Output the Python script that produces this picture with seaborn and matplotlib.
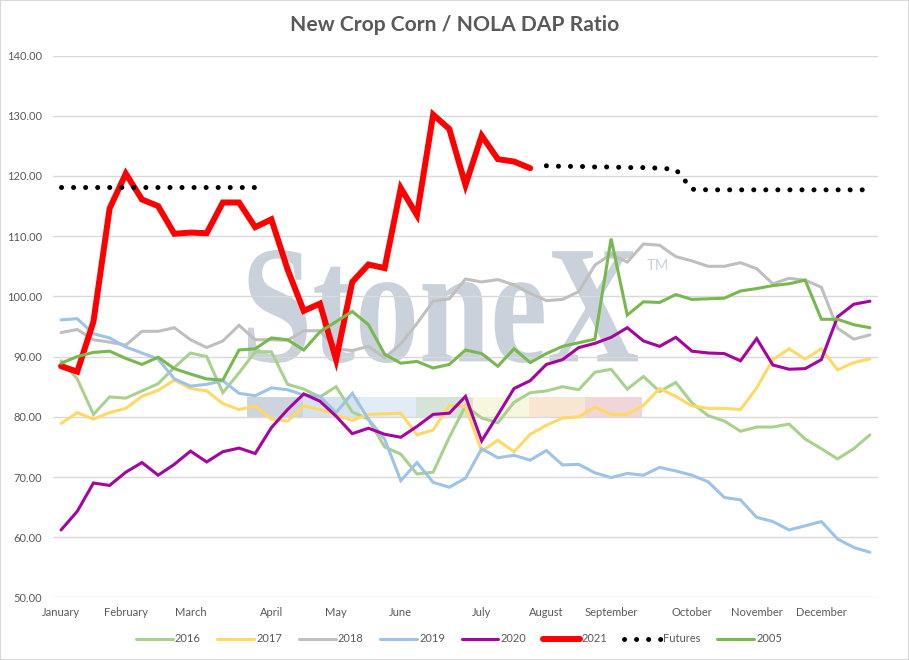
import numpy as np
import pandas as pd
import seaborn as sns
import matplotlib.pyplot as plt
from matplotlib.textpath import TextPath
from matplotlib.patches import PathPatch, Rectangle
from matplotlib.font_manager import FontProperties
from matplotlib.transforms import Affine2D

# weekly points, Jan -> Dec
weeks = np.arange(51)
nan = np.nan

tick_weeks = [0, 4, 8, 13, 17, 21, 26, 30, 34, 39, 43, 47]
month_labels = ['January', 'February', 'March', 'April', 'May', 'June', 'July',
                'August', 'September', 'October', 'November', 'December']

y2016 = [89.3, 86.3, 80.4, 83.3, 83.1, 84.3, 85.5, 88.2, 90.6, 90.0, 84.0, 87.3, 90.8,
         90.8, 85.4, 84.6, 83.3, 85.0, 80.8, 79.6, 75.0, 73.8, 70.5, 70.8, 76.6, 81.8,
         79.8, 79.0, 82.4, 84.0, 84.3, 85.0, 84.5, 87.4, 87.9, 84.6, 86.7, 84.2, 85.7,
         82.3, 80.2, 79.3, 77.6, 78.3, 78.3, 78.8, 76.3, 74.7, 73.0, 74.7, 77.0]
y2017 = [78.9, 80.7, 79.6, 80.7, 81.4, 83.4, 84.4, 86.1, 84.7, 84.3, 82.2, 81.2, 81.8,
         79.6, 79.3, 81.8, 81.2, 80.3, 79.4, 80.4, 80.5, 80.6, 77.0, 77.8, 81.9, 81.7,
         74.3, 76.1, 74.2, 77.1, 78.6, 79.8, 80.0, 81.6, 80.4, 80.4, 81.9, 84.7, 83.4,
         81.8, 81.4, 81.4, 81.2, 84.8, 89.5, 91.3, 89.6, 91.3, 87.8, 89.0, 89.6]
y2018 = [94.0, 94.5, 92.8, 92.4, 91.9, 94.2, 94.2, 94.8, 92.8, 91.5, 92.6, 95.2, 92.8,
         92.8, 92.7, 94.3, 94.3, 91.3, 91.0, 91.7, 89.8, 92.1, 95.5, 99.2, 99.6, 102.9,
         102.4, 102.8, 101.9, 100.5, 99.3, 99.5, 100.8, 105.2, 107.0, 105.7, 108.7, 108.5,
         106.6, 105.9, 105.0, 105.0, 105.6, 104.6, 102.1, 103.0, 102.7, 101.5, 94.7, 92.9, 93.6]
y2019 = [96.1, 96.3, 93.8, 93.1, 91.6, 90.6, 89.6, 86.3, 85.1, 85.4, 86.0, 83.9, 83.5,
         84.8, 84.5, 83.6, 83.4, 80.7, 83.9, 79.6, 76.3, 69.4, 72.4, 69.1, 68.3, 69.8,
         74.7, 73.2, 73.6, 72.8, 74.4, 72.0, 72.1, 70.7, 69.9, 70.6, 70.3, 71.6, 71.0,
         70.3, 69.2, 66.6, 66.2, 63.3, 62.6, 61.2, 61.9, 62.6, 59.7, 58.3, 57.5]
y2020 = [61.2, 64.3, 69.0, 68.6, 70.8, 72.4, 70.3, 72.1, 74.3, 72.5, 74.2, 74.8, 73.9,
         78.2, 81.2, 83.8, 82.6, 80.1, 77.2, 78.1, 77.1, 76.6, 78.4, 80.4, 80.6, 83.4,
         76.0, 80.3, 84.7, 86.0, 88.7, 89.5, 91.5, 92.2, 93.2, 94.8, 92.6, 91.7, 93.2,
         90.9, 90.6, 90.5, 89.3, 93.0, 88.6, 87.9, 88.0, 89.5, 96.6, 98.7, 99.2]
y2021 = [88.4, 87.5, 95.8, 114.6, 120.4, 116.1, 115.0, 110.4, 110.6, 110.5, 115.6, 115.6,
         111.5, 112.8, 104.5, 97.6, 98.8, 89.5, 102.4, 105.3, 104.7, 118.0, 113.5, 130.2,
         127.8, 118.5, 126.7, 122.8, 122.4, 121.3] + [nan] * 21
futures = [118.2] * 13 + [nan] * 17 + [121.7, 121.6, 121.6, 121.5, 121.5, 121.4, 121.4,
                                       121.3, 121.1] + [117.8] + [117.7] * 11
y2005 = [88.9, 90.0, 90.7, 90.9, 89.7, 88.7, 89.9, 88.0, 87.1, 86.3, 86.1, 91.1, 91.3,
         93.1, 92.8, 91.1, 94.1, 95.8, 97.5, 95.3, 90.4, 88.9, 89.2, 88.1, 88.7, 91.1,
         90.5, 88.4, 91.3, 89.0, 90.5, 91.7, 92.3, 92.9, 109.6, 96.9, 99.1, 99.0, 100.3,
         99.5, 99.6, 99.7, 100.9, 101.3, 101.8, 102.1, 102.7, 96.2, 96.2, 95.3, 94.8]

series = {'2016': y2016, '2017': y2017, '2018': y2018, '2019': y2019,
          '2020': y2020, '2021': y2021, 'Futures': futures, '2005': y2005}
colors = {'2016': '#a9d18e', '2017': '#ffd966', '2018': '#bfbfbf', '2019': '#9dc3e6',
          '2020': '#a5049f', '2021': '#ff0000', 'Futures': '#000000', '2005': '#78b84e'}

df = pd.DataFrame({'week': np.tile(weeks, len(series)),
                   'series': np.repeat(list(series.keys()), len(weeks)),
                   'ratio': np.concatenate([series[k] for k in series])})

sns.set_theme(style='white')
plt.rcParams['font.family'] = ['Lato', 'DejaVu Sans']
txt = '#595959'

fig, ax = plt.subplots(figsize=(9.09, 6.6), dpi=100)
fig.subplots_adjust(left=53/909, right=878/909, bottom=1-597.4/660, top=1-55.6/660)
ax.set_facecolor('none')

# StoneX watermark (decoration)
tp = TextPath((0, 0), 'StoneX', size=1,
              prop=FontProperties(family='Liberation Serif', weight='bold'))
bb = tp.get_extents()
wm_tr = (Affine2D().translate(-bb.x0, -bb.y0)
         .scale(390 / bb.width / 909, 113 / bb.height / 660)
         .translate(248 / 909, (660 - 363) / 660) + fig.transFigure)
ax.add_artist(PathPatch(tp, transform=wm_tr, facecolor='#c9d1db', edgecolor='none',
                        zorder=0.4, clip_on=False))
fig.text(647 / 909, 1 - 266 / 660, 'TM', color='#c9d1db', fontsize=10.5, va='center')
band = ['#cdd4dc', '#d6e3ee', '#e1ecf5', '#d6e4d8', '#f7f6df', '#f9e6d2', '#f0d6d9']
for k, c in enumerate(band):
    ax.add_artist(Rectangle(((247 + k * 56.4) / 909, 1 - 417 / 660), 56.4 / 909, 20 / 660,
                            transform=fig.transFigure, facecolor=c, edgecolor='none',
                            zorder=0.4, clip_on=False))

widths = {'2021': 4.3}
for name in series:
    sub = df[df['series'] == name]
    if name == 'Futures':
        for j, seg in enumerate([sub[sub['week'] <= 12], sub[sub['week'] >= 30]]):
            sns.lineplot(data=seg, x='week', y='ratio', ax=ax, color='black', lw=3.6,
                         linestyle=(0, (0.01, 2.4)), dash_capstyle='round',
                         label=name if j == 0 else None, zorder=2)
    else:
        sns.lineplot(data=sub.dropna(), x='week', y='ratio', ax=ax, color=colors[name],
                     lw=widths.get(name, 2.2), label=name, solid_joinstyle='miter', zorder=2)

ax.set_xlim(-0.5, 50.5)
ax.set_ylim(50, 140)
ax.set_yticks(np.arange(50, 141, 10))
ax.set_yticklabels([f'{v:.2f}' for v in np.arange(50, 141, 10)])
ax.set_xticks(tick_weeks)
ax.set_xticklabels(month_labels)
ax.tick_params(axis='y', length=0, pad=8, labelsize=8, labelcolor=txt)
ax.tick_params(axis='x', length=0, pad=7, labelsize=8, labelcolor=txt)
ax.set_xlabel('')
ax.set_ylabel('')
ax.grid(axis='y', color='#d9d9d9', lw=1)
ax.grid(axis='x', visible=False)
for s in ax.spines.values():
    s.set_visible(False)

fig.text(0.5, 1 - 25 / 660, 'New Crop Corn / NOLA DAP Ratio', ha='center', va='center',
         fontsize=15.2, fontweight='bold', color=txt)

handles, labels = ax.get_legend_handles_labels()
ax.legend_.remove()
fig.legend(handles, labels, loc='center', bbox_to_anchor=(0.505, 1 - 639 / 660), ncol=8,
           frameon=False, fontsize=8, labelcolor=txt, handlelength=3.3, handletextpad=0.2,
           columnspacing=1.5)

fig.add_artist(Rectangle((0, 0), 1, 1, transform=fig.transFigure, fill=False,
                         edgecolor='#d9d9d9', lw=1.5))
fig.savefig('out.png', dpi=100)
